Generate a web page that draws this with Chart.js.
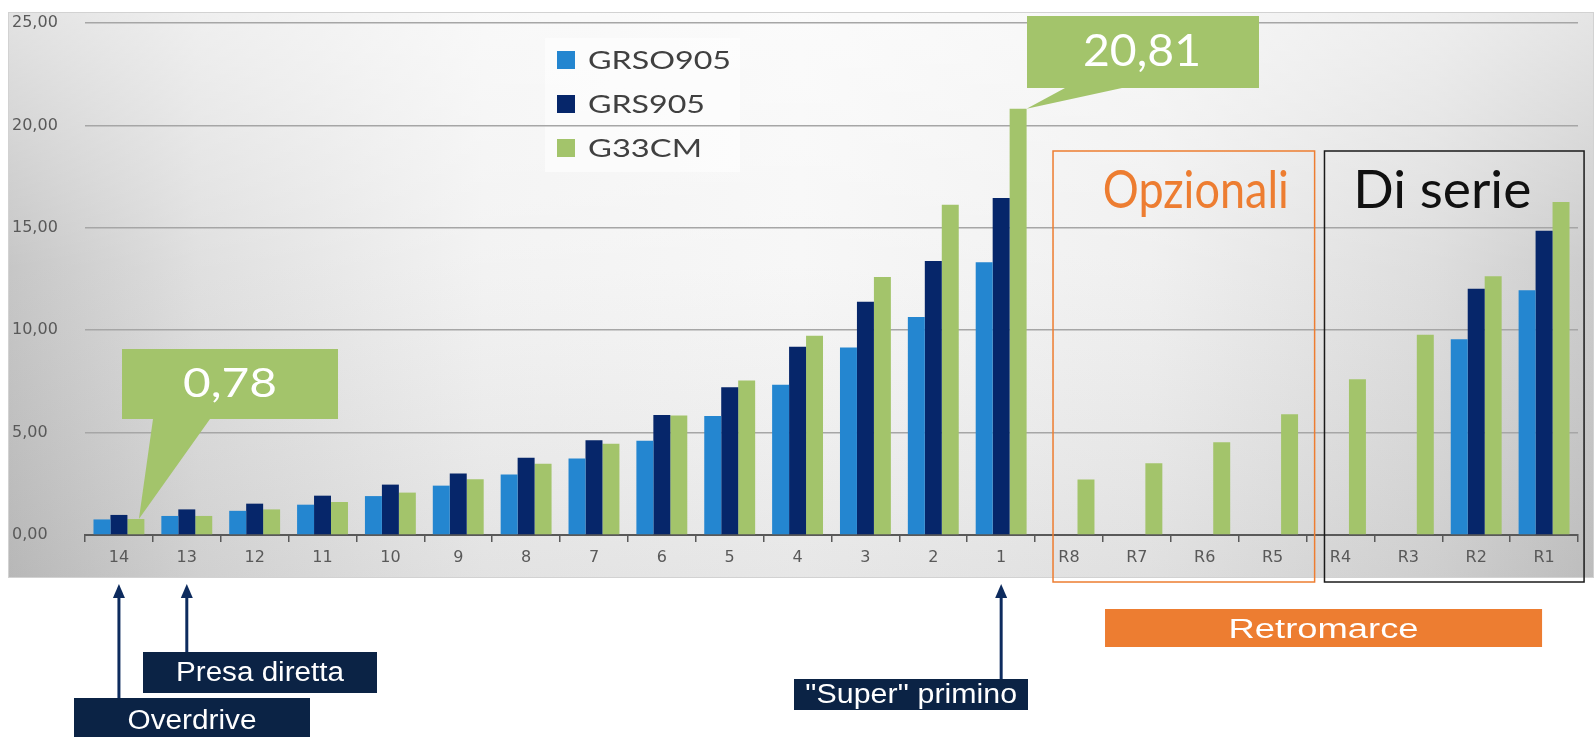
<!DOCTYPE html>
<html>
<head>
<meta charset="utf-8">
<script src="https://cdn.jsdelivr.net/npm/chart.js@4.4.1/dist/chart.umd.min.js"></script>
<style>
  html, body { margin: 0; padding: 0; background: #fff; }
  #wrap { position: relative; width: 1596px; height: 737px; }
</style>
</head>
<body>
<div id="wrap"><canvas id="gearChart"></canvas></div>
<script>
// marce e rapporti
const marce = ['14', '13', '12', '11', '10', '9', '8', '7', '6', '5', '4', '3', '2', '1', 'R8', 'R7', 'R6', 'R5', 'R4', 'R3', 'R2', 'R1'];
const grso905 = [0.76, 0.93, 1.18, 1.48, 1.90, 2.41, 2.96, 3.73, 4.60, 5.81, 7.34, 9.16, 10.64, 13.32, null, null, null, null, null, null, 9.56, 11.95];
const grs905 = [0.98, 1.25, 1.53, 1.92, 2.46, 3.00, 3.77, 4.63, 5.86, 7.22, 9.19, 11.39, 13.38, 16.45, null, null, null, null, null, null, 12.02, 14.86];
const g33cm = [0.78, 0.93, 1.25, 1.61, 2.07, 2.72, 3.48, 4.46, 5.84, 7.54, 9.73, 12.60, 16.12, 20.81, 2.71, 3.50, 4.53, 5.89, 7.60, 9.78, 12.63, 16.26];
const yTicks = [0, 5, 10, 15, 20, 25];

const serie = ['GRSO905', 'GRS905', 'G33CM'];
const valori = [grso905, grs905, g33cm];
const colori = ['#2486d0', '#06266a', '#a3c46b'];

// etichette sotto l'asse
const frecce = [
    { marcia: '14', testo: 'Overdrive' },
    { marcia: '13', testo: 'Presa diretta' },
    { marcia: '1', testo: "''Super'' primino" }
];

function fmt(v) {
    return v.toFixed(2).replace('.', ',');
}

// scrive un testo allargandolo fino alla larghezza voluta
function fitText(ctx, text, x, base, font, w, color, align) {
    ctx.save();
    ctx.font = font;
    const m = ctx.measureText(text).width;
    ctx.translate(x, base);
    ctx.scale(w / m, 1);
    ctx.fillStyle = color;
    ctx.textAlign = align || 'center';
    ctx.textBaseline = 'alphabetic';
    ctx.fillText(text, 0, 0);
    ctx.restore();
}

const sfondo = {
    id: 'sfondo',
    beforeDraw(chart) {
        const ctx = chart.ctx;
        const x0 = 8, y0 = 12, w = 1585, h = 565;
        ctx.save();
        let g = ctx.createLinearGradient(x0, 0, x0 + w, 0);
        g.addColorStop(0, '#c0c0c0');
        g.addColorStop(0.12, '#dcdcdc');
        g.addColorStop(0.3, '#f1f1f1');
        g.addColorStop(0.5, '#f6f6f6');
        g.addColorStop(0.72, '#eeeeee');
        g.addColorStop(0.9, '#dadada');
        g.addColorStop(1, '#c6c6c6');
        ctx.fillStyle = g;
        ctx.fillRect(x0, y0, w, h);
        g = ctx.createLinearGradient(0, y0, 0, y0 + h);
        g.addColorStop(0, 'rgba(255,255,255,0.55)');
        g.addColorStop(0.45, 'rgba(255,255,255,0.1)');
        g.addColorStop(1, 'rgba(120,120,120,0.12)');
        ctx.fillStyle = g;
        ctx.fillRect(x0, y0, w, h);
        ctx.strokeStyle = '#d2d2d2';
        ctx.lineWidth = 1;
        ctx.strokeRect(x0 + 0.5, y0 + 0.5, w, h);
        // riquadro della legenda
        ctx.fillStyle = 'rgba(255,255,255,0.55)';
        ctx.fillRect(545, 38, 195, 134);
        ctx.restore();
    }
};

const annotazioni = {
    id: 'annotazioni',
    afterDraw(chart) {
        const ctx = chart.ctx;
        const xs = chart.scales.x;
        const cx = m => xs.getPixelForValue(marce.indexOf(m));
        ctx.save();

        // legenda
        const lw = [143, 117, 114];
        serie.forEach((s, i) => {
            const base = 69 + i * 44;
            ctx.fillStyle = colori[i];
            ctx.fillRect(557, base - 18, 18, 18);
            fitText(ctx, s, 588, base, '25px Lato', lw[i], '#404040', 'left');
        });

        // riquadri Opzionali / Di serie
        ctx.lineWidth = 1.5;
        ctx.strokeStyle = '#ed7d31';
        let a = cx('R8') - 16, b = cx('R5') + 42;
        ctx.strokeRect(a, 151, b - a, 431);
        fitText(ctx, 'Opzionali', (a + b) / 2 + 12, 208, '52px Lato', 186, '#ed7d31');
        ctx.strokeStyle = '#1a1a1a';
        a = cx('R4') - 16; b = cx('R1') + 40;
        ctx.strokeRect(a, 151, b - a, 431);
        fitText(ctx, 'Di serie', (a + b) / 2 - 12, 208, '52px Lato', 178, '#111111');

        // fumetti con i valori G33CM
        const meta = chart.getDatasetMeta(2);
        function fumetto(bar, tipX, box, tail) {
            ctx.fillStyle = '#a3c46b';
            ctx.beginPath();
            ctx.moveTo(box[0], box[1]);
            ctx.lineTo(box[2], box[1]);
            ctx.lineTo(box[2], box[3]);
            ctx.lineTo(tail[1], box[3]);
            ctx.lineTo(tipX, bar.y);
            ctx.lineTo(tail[0], box[3]);
            ctx.lineTo(box[0], box[3]);
            ctx.closePath();
            ctx.fill();
        }
        let bar = meta.data[marce.indexOf('14')];
        fumetto(bar, bar.x + 3, [122, 349, 338, 419], [153, 210]);
        fitText(ctx, fmt(g33cm[0]), 230, 397, '40px Lato', 94, '#ffffff');
        bar = meta.data[marce.indexOf('1')];
        fumetto(bar, bar.x + bar.width / 2, [1027, 16, 1259, 88], [1065, 1122]);
        fitText(ctx, fmt(g33cm[13]), 1142, 66, '45px Lato', 118, '#ffffff');

        // Retromarce
        a = cx('R8') + 36; b = cx('R1') - 2;
        ctx.fillStyle = '#ed7d31';
        ctx.fillRect(a, 609, b - a, 38);
        fitText(ctx, 'Retromarce', (a + b) / 2, 638, '27px "Liberation Sans"', 190, '#ffffff');

        // frecce e box blu
        const boxes = {
            'Overdrive': [74, 698, 310, 740, 729, 129],
            'Presa diretta': [143, 652, 377, 693, 681, 168],
            "''Super'' primino": [794, 679, 1028, 710, 703, 212]
        };
        frecce.forEach(f => {
            const x = cx(f.marcia);
            const bx = boxes[f.testo];
            ctx.strokeStyle = '#0d2b5e';
            ctx.fillStyle = '#0d2b5e';
            ctx.lineWidth = 3;
            ctx.beginPath();
            ctx.moveTo(x, 596);
            ctx.lineTo(x, bx[1]);
            ctx.stroke();
            ctx.beginPath();
            ctx.moveTo(x, 584);
            ctx.lineTo(x - 6, 598);
            ctx.lineTo(x + 6, 598);
            ctx.closePath();
            ctx.fill();
            ctx.fillStyle = '#0b2345';
            ctx.fillRect(bx[0], bx[1], bx[2] - bx[0], bx[3] - bx[1]);
            fitText(ctx, f.testo, (bx[0] + bx[2]) / 2, bx[4], '27px "Liberation Sans"', bx[5], '#ffffff');
        });
        ctx.restore();
    }
};

Chart.defaults.font.family = '"DejaVu Sans"';
Chart.defaults.color = '#595959';

const ctx = document.getElementById('gearChart').getContext('2d');
const chart = new Chart(ctx, {
    type: 'bar',
    data: {
        labels: marce,
        datasets: serie.map((s, i) => ({
            label: s,
            data: valori[i],
            backgroundColor: colori[i],
            borderWidth: 0,
            categoryPercentage: 0.75,
            barPercentage: 1
        }))
    },
    options: {
        responsive: true,
        maintainAspectRatio: false,
        animation: false,
        layout: { padding: { left: 12, top: 23, right: 18, bottom: 160 } },
        plugins: {
            legend: { display: false },
            tooltip: { enabled: false }
        },
        scales: {
            x: {
                grid: { drawOnChartArea: false, drawTicks: true, tickLength: 7, color: '#595959', lineWidth: 1.5, offset: true },
                border: { color: '#595959', width: 2 },
                ticks: { color: '#595959', font: { size: 16 }, padding: 6, maxRotation: 0, autoSkip: false },
                afterFit: s => { s.height = 42; }
            },
            y: {
                min: yTicks[0],
                max: yTicks[yTicks.length - 1],
                afterBuildTicks: s => { s.ticks = yTicks.map(v => ({ value: v })); },
                ticks: { color: '#595959', font: { size: 16 }, crossAlign: 'far', padding: 0, callback: v => fmt(v) },
                grid: { color: '#a6a6a6', lineWidth: 1.5, drawTicks: false },
                border: { display: false },
                afterFit: s => { s.width = 73; }
            }
        }
    },
    plugins: [sfondo, annotazioni]
});
</script>
</body>
</html>
